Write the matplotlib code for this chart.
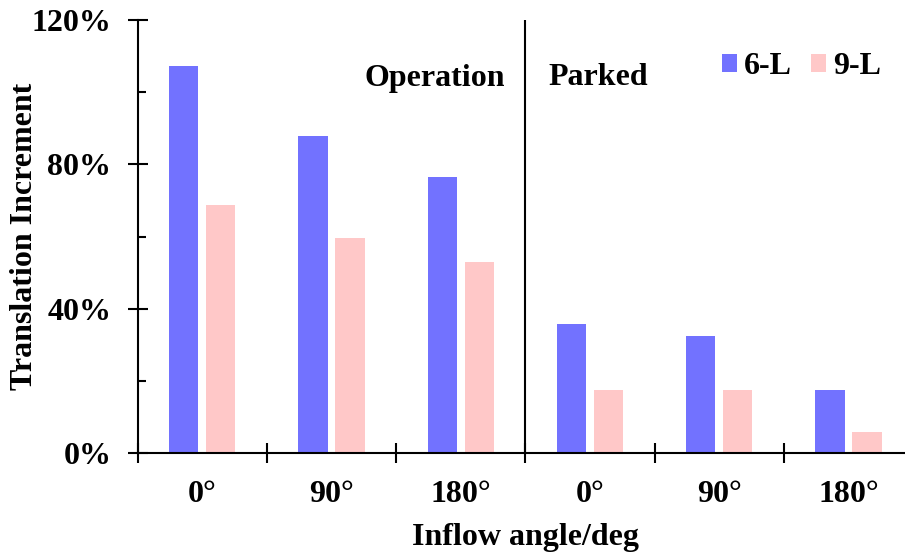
import numpy as np
import matplotlib
matplotlib.use("Agg")
import matplotlib.pyplot as plt

plt.rcParams['font.family'] = ['Liberation Serif', 'DejaVu Serif']
plt.rcParams['font.weight'] = 'bold'

# inflow angles for the operation and parked cases
angles = ['0°', '90°', '180°', '0°', '90°', '180°']
inc_6L = [107.3, 87.8, 76.5, 35.8, 32.5, 17.4]   # %
inc_9L = [68.8, 59.6, 53.0, 17.4, 17.4, 5.8]     # %

blue = '#7272FF'
pink = '#FFC8C8'
fs = 23

fig = plt.figure(figsize=(9.05, 5.53), dpi=100)
ax = fig.add_axes([0.1522, 0.1803, 0.8567, 0.7836])

x = np.arange(len(angles)) + 0.5
w = 0.226
off = 0.143
ax.bar(x - off, inc_6L, width=w, color=blue, label='6-L', zorder=2)
ax.bar(x + off, inc_9L, width=w, color=pink, label='9-L', zorder=2)

# divider between operation and parked
ax.axvline(3, color='black', lw=1.5, zorder=3)

ax.set_xlim(0, 6)
ax.set_ylim(0, 120)

for s in ['top', 'right']:
    ax.spines[s].set_visible(False)
for s in ['left', 'bottom']:
    ax.spines[s].set_linewidth(1.5)

ax.set_yticks([0, 40, 80, 120])
ax.set_yticklabels(['0%', '40%', '80%', '120%'])
ax.set_yticks([20, 60, 100], minor=True)
ax.tick_params(axis='y', which='major', direction='inout', length=14, width=1.5,
               labelsize=fs, pad=12)
ax.tick_params(axis='y', which='minor', direction='in', length=5.5, width=1.5)

ax.set_xticks(np.arange(0, 7))
ax.set_xticklabels([])
ax.set_xticks(x, minor=True)
ax.set_xticklabels(angles, minor=True)
ax.tick_params(axis='x', which='major', direction='inout', length=14, width=1.5)
ax.tick_params(axis='x', which='minor', length=0, labelsize=fs, pad=19)

ax.set_ylabel('Translation Increment', fontsize=fs, fontweight='bold')
ax.yaxis.set_label_coords(-0.128, 0.5)
ax.set_xlabel('Inflow angle/deg', fontsize=fs, fontweight='bold')
ax.xaxis.set_label_coords(0.4995, -0.162)

ax.text(2.84, 101.7, 'Operation', ha='right', va='baseline', fontsize=fs, fontweight='bold')
ax.text(3.175, 102, 'Parked', ha='left', va='baseline', fontsize=fs, fontweight='bold')

ax.legend(loc='center left', bbox_to_anchor=(0.753, 0.892), frameon=False,
          ncol=2, fontsize=fs, handlelength=0.47, handleheight=0.47,
          handletextpad=0.23, columnspacing=0.6, borderpad=0, borderaxespad=0)

fig.savefig('out.png', dpi=100)
